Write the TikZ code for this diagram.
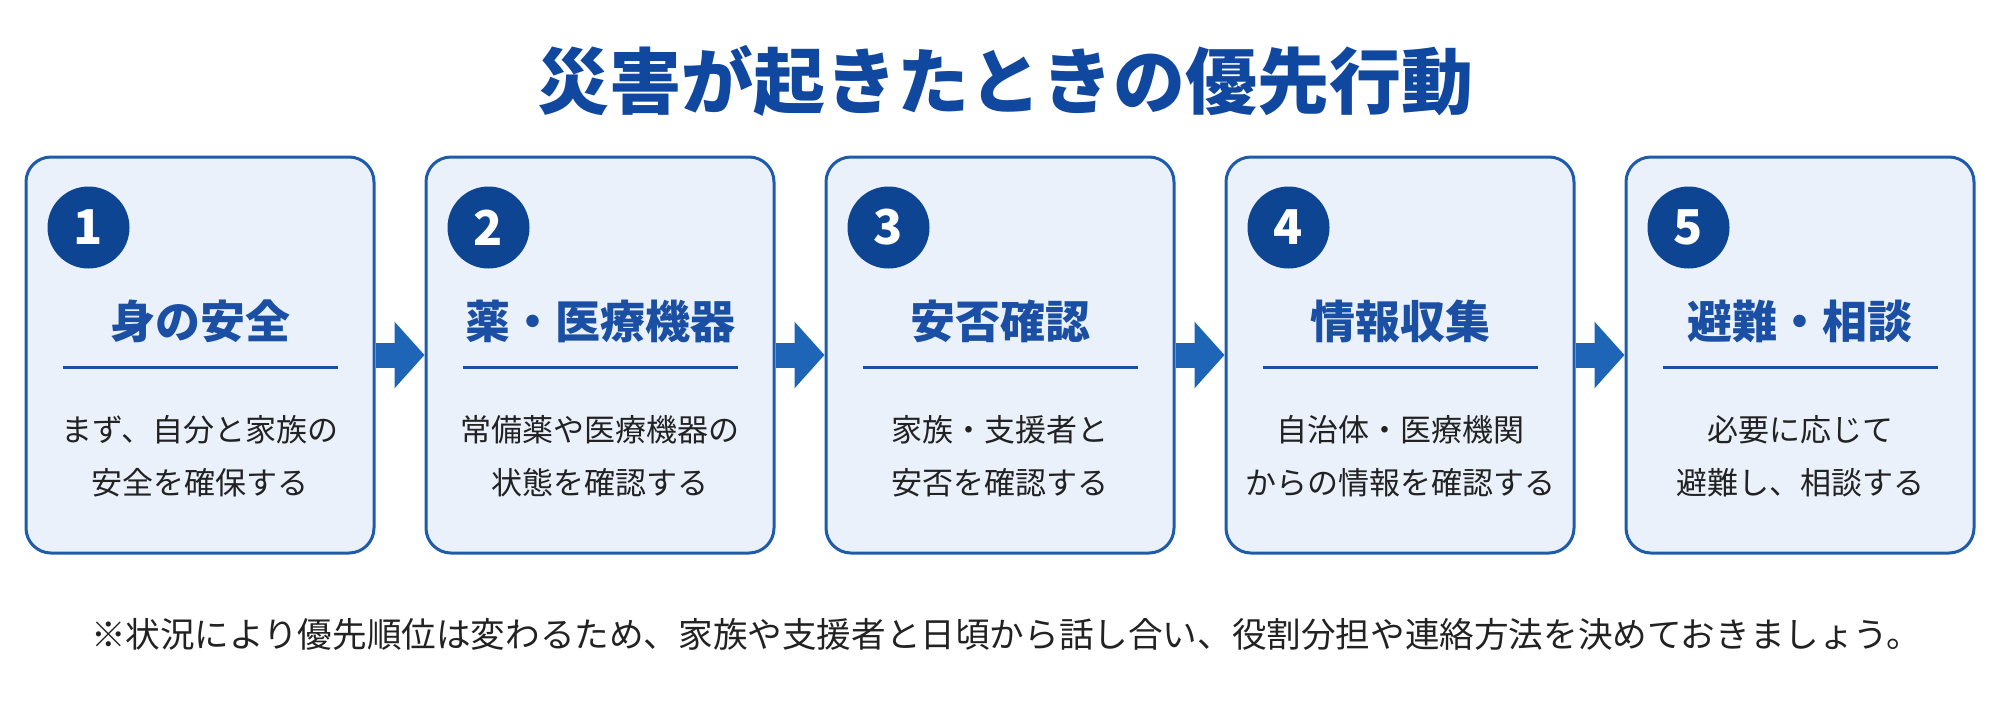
\documentclass[tikz,border=0pt]{standalone}
\usepackage{fontspec}
\setmainfont{Noto Sans CJK JP}
\usetikzlibrary{arrows.meta,positioning}

\definecolor{titleblue}{HTML}{1048A0}
\definecolor{boxblue}{HTML}{1E5BAA}
\definecolor{boxfill}{HTML}{EAF1FB}
\definecolor{headblue}{HTML}{1A4FA3}
\definecolor{dotblue}{HTML}{0D4592}
\definecolor{arrowblue}{HTML}{1F65B7}
\definecolor{bodyblack}{HTML}{222222}

\begin{document}
\begin{tikzpicture}[x=1pt,y=-1pt,
    stepbox/.style={draw=boxblue, line width=3pt, fill=boxfill, rounded corners=25pt,
      minimum width=348pt, minimum height=396pt, inner sep=0pt},
    numdot/.style={circle, fill=dotblue, text=white, minimum size=82pt, inner sep=0pt,
      font=\fontsize{48}{48}\selectfont\bfseries},
    headtext/.style={text=headblue, inner sep=0pt, font=\fontsize{45}{45}\selectfont\bfseries},
    bodytext/.style={text=bodyblack, align=center, inner sep=0pt, font=\fontsize{31}{53}\selectfont},
    headrule/.style={draw=headblue, line width=3pt},
    flowarrow/.style={draw=arrowblue, line width=25pt, -{Triangle[width=65pt,length=30pt]}}]

    \fill[white] (0,0) rectangle (2000,721);
    \useasboundingbox (0,0) rectangle (2000,721);

    %% title
    \node[text=titleblue, inner sep=0pt, font=\fontsize{72}{72}\selectfont\bfseries]
      (title) at (1005,81) {災害が起きたときの優先行動};

    %% five steps
    \foreach \i/\head/\lineA/\lineB in {
        1/身の安全/まず、自分と家族の/安全を確保する,
        2/薬・医療機器/常備薬や医療機器の/状態を確認する,
        3/安否確認/家族・支援者と/安否を確認する,
        4/情報収集/自治体・医療機関/からの情報を確認する,
        5/避難・相談/必要に応じて/避難し、相談する}{
      \pgfmathsetmacro{\boxX}{200+400*(\i-1)}
      \node[stepbox] (box\i) at (\boxX,355) {};
      \node[numdot] (num\i) at ([xshift=64pt,yshift=-72pt]box\i.north west) {\i};
      \node[headtext] (head\i) at ([yshift=-166pt]box\i.north) {\head};
      \draw[headrule] ([xshift=38pt,yshift=-212pt]box\i.north west)
        -- ([xshift=-38pt,yshift=-212pt]box\i.north east);
      \node[bodytext] (body\i) at ([yshift=-301pt]box\i.north) {\lineA\\\lineB};
    }

    %% arrows between steps
    \foreach \i [evaluate=\i as \j using int(\i+1)] in {1,...,4}
      \draw[flowarrow] (box\i.east) -- (box\j.west);

    %% note
    \node[text=bodyblack, inner sep=0pt, font=\fontsize{34.6}{35}\selectfont] (note) at (1006,634)
      {※状況により優先順位は変わるため、家族や支援者と日頃から話し合い、役割分担や連絡方法を決めておきましょう。};
\end{tikzpicture}
\end{document}
